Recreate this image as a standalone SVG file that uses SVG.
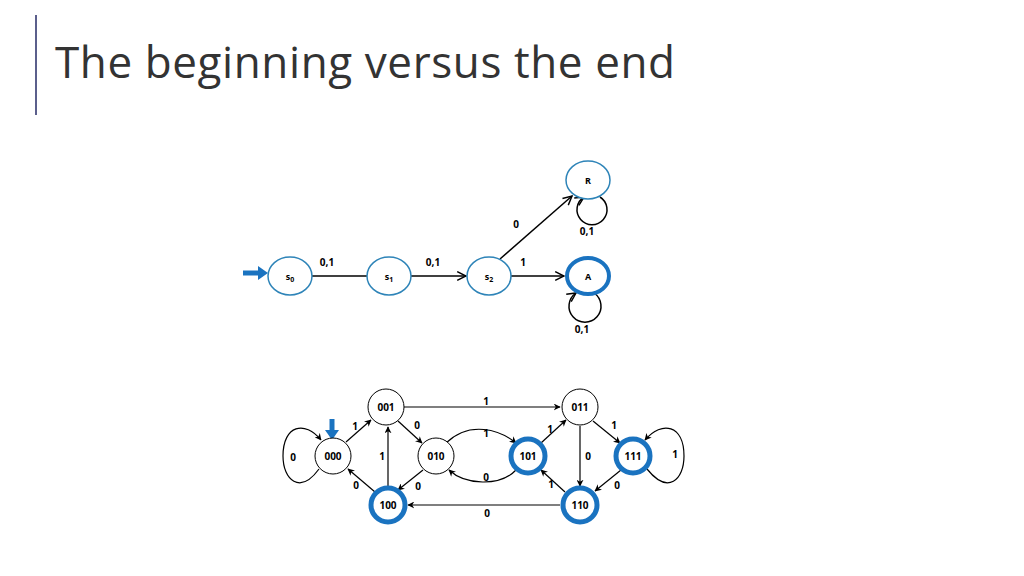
<svg xmlns="http://www.w3.org/2000/svg" width="1024" height="576" viewBox="0 0 1024 576">
<defs>
<marker id="ah" viewBox="0 0 10 10" refX="9" refY="5" markerWidth="7" markerHeight="7" orient="auto" markerUnits="userSpaceOnUse"><path d="M0,0 L10,5 L0,10 L3,5 Z" fill="#000"/></marker>
<marker id="ahs" viewBox="0 0 10 10" refX="9" refY="5" markerWidth="11" markerHeight="11" orient="auto" markerUnits="userSpaceOnUse"><path d="M1,1 L9,5 L1,9" fill="none" stroke="#000" stroke-width="1.3"/></marker>
</defs>
<style>
text{font-family:"Open Sans","DejaVu Sans",sans-serif;font-weight:bold;font-size:10px;fill:#000;text-anchor:middle}
.tn{fill:#fff;stroke:#2e84b8;stroke-width:1.5}
.acc{fill:#fff;stroke:#1a73c0;stroke-width:4}
.bn{fill:#fff;stroke:#000;stroke-width:1}
.ba{fill:#fff;stroke:#1a73c0;stroke-width:5}
.e{fill:none;stroke:#000;stroke-width:1.5;marker-end:url(#ahs)}
.f{fill:none;stroke:#000;stroke-width:1.2;marker-end:url(#ah)}
</style>
<rect width="1024" height="576" fill="#fff"/>
<line x1="36" y1="15" x2="36" y2="115" stroke="#5b5f8c" stroke-width="2"/>
<text x="55" y="78" style="font-family:'Open Sans',sans-serif;font-weight:normal;font-size:44px;letter-spacing:0.6px;fill:#333;text-anchor:start">The beginning versus the end</text>
<g id="connectors">
<path class="e" d="M312,276 H382"/>
<path class="e" d="M411,276 H466"/>
<path class="e" d="M511,276 H564"/>
<path class="e" d="M500,259 L572,196"/>
<path class="e" d="M600,197 A15,15 0 1 1 584,197"/>
<path class="e" d="M594,293 A16,16 0 1 1 576,293"/>
<path d="M243,273 H262" stroke="#1a73c0" stroke-width="5" fill="none"/>
<path d="M258,266 L268,273 L258,280 Z" fill="#1a73c0"/>
<path class="f" d="M404,407 H560"/>
<path class="f" d="M346,442 L371,420"/>
<path class="f" d="M398,421 L422,443"/>
<path class="f" d="M388,486 V427"/>
<path class="f" d="M375,492 L348,469"/>
<path class="f" d="M423,470 L398,490"/>
<path class="f" d="M446,443 C470,420 500,430 516,443"/>
<path class="f" d="M516,470 C500,487 465,485 449,470"/>
<path class="f" d="M541,443 L566,420"/>
<path class="f" d="M593,421 L620,443"/>
<path class="f" d="M580,426 V486"/>
<path class="f" d="M565,492 L541,470"/>
<path class="f" d="M621,470 L595,491"/>
<path class="f" d="M560,505 H408"/>
<path class="f" d="M319,469 C300,495 283,480 283,456 C283,425 305,420 321,440"/>
<path class="f" d="M647,469 C668,495 684,480 684,456 C684,425 662,420 645,440"/>
<path d="M332,419 V432" stroke="#1a73c0" stroke-width="5" fill="none"/>
<path d="M325,430 L332,440 L339,430 Z" fill="#1a73c0"/>
</g>
<g id="labels">
<text x="327" y="266">0,1</text><text x="433" y="266">0,1</text>
<text x="523" y="266">1</text><text x="516" y="228">0</text>
<text x="587" y="235">0,1</text><text x="582" y="333">0,1</text>
<text x="486" y="405">1</text><text x="355" y="430">1</text><text x="417" y="429">0</text>
<text x="382" y="460">1</text><text x="356" y="489">0</text><text x="418" y="490">0</text>
<text x="486" y="437">1</text><text x="486" y="481">0</text>
<text x="550" y="433">1</text><text x="614" y="429">1</text><text x="588" y="460">0</text>
<text x="551" y="488">1</text><text x="617" y="489">0</text><text x="487" y="517">0</text>
<text x="293" y="461">0</text><text x="675" y="458">1</text>
</g>
<g id="s0"><ellipse class="tn" cx="290" cy="276" rx="22" ry="19"/><text x="290" y="280" style="font-size:9px">s<tspan dy="2" font-size="7">0</tspan></text></g>
<g id="s1"><ellipse class="tn" cx="389" cy="276" rx="22" ry="19"/><text x="389" y="280" style="font-size:9px">s<tspan dy="2" font-size="7">1</tspan></text></g>
<g id="s2"><ellipse class="tn" cx="489" cy="276" rx="22" ry="19"/><text x="489" y="280" style="font-size:9px">s<tspan dy="2" font-size="7">2</tspan></text></g>
<g id="R"><ellipse class="tn" cx="588" cy="180" rx="22" ry="19"/><text x="588" y="184" style="font-size:9px">R</text></g>
<g id="A"><ellipse class="acc" cx="588" cy="276" rx="21" ry="18"/><text x="588" y="280" style="font-size:9px">A</text></g>
<g id="n000"><circle class="bn" cx="333" cy="456" r="18"/><text x="333" y="460">000</text></g>
<g id="n001"><circle class="bn" cx="386" cy="407" r="18"/><text x="386" y="411">001</text></g>
<g id="n010"><circle class="bn" cx="436" cy="456" r="18"/><text x="436" y="460">010</text></g>
<g id="n101"><circle class="ba" cx="528" cy="456" r="17"/><text x="528" y="460">101</text></g>
<g id="n011"><circle class="bn" cx="580" cy="407" r="18"/><text x="580" y="411">011</text></g>
<g id="n111"><circle class="ba" cx="633" cy="456" r="17"/><text x="633" y="460">111</text></g>
<g id="n100"><circle class="ba" cx="388" cy="505" r="17"/><text x="388" y="509">100</text></g>
<g id="n110"><circle class="ba" cx="580" cy="505" r="17"/><text x="580" y="509">110</text></g>
</svg>
